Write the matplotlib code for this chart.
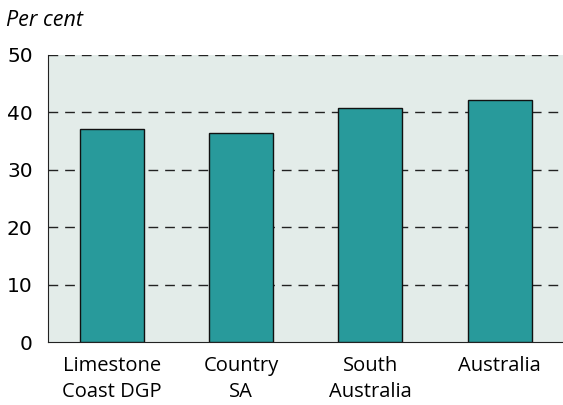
import matplotlib
matplotlib.use("Agg")
import matplotlib.pyplot as plt

categories = ["Limestone\nCoast DGP", "Country\nSA", "South\nAustralia", "Australia"]
values = [37.1, 36.4, 40.8, 42.2]
yticks = [0, 10, 20, 30, 40, 50]

fig = plt.figure(figsize=(5.63, 4.05), dpi=100)
ax = fig.add_axes([48 / 563, 1 - 342 / 405, (563 - 48) / 563, (342 - 55) / 405])
ax.set_facecolor("#e3ece9")

x = range(len(categories))
ax.bar(x, values, width=0.495, color="#289a9b", edgecolor="#111111", linewidth=1.0, zorder=3)

ax.set_ylim(0, 50)
ax.set_xlim(-0.495, 3.49)
ax.set_yticks(yticks)
ax.set_yticklabels([str(v) for v in yticks], fontsize=14.5, family="DejaVu Sans")
ax.set_xticks(list(x))
ax.set_xticklabels(categories, fontsize=14.5, family="Open Sans", linespacing=1.4)
ax.tick_params(axis="both", length=0)
ax.tick_params(axis="x", pad=10)
ax.tick_params(axis="y", pad=11)

for v in yticks[1:]:
    ax.axhline(v, color="#222222", linestyle=(0, (7, 5)), linewidth=1.0, zorder=1)

ax.spines["right"].set_visible(False)
ax.spines["top"].set_visible(False)
ax.spines["left"].set_color("#222222")
ax.spines["bottom"].set_color("#222222")

fig.text(6 / 563, 1 - 21 / 405, "Per cent", fontsize=15.5, style="italic",
         family="Open Sans", va="center", ha="left")

fig.savefig("out.png", dpi=100)
